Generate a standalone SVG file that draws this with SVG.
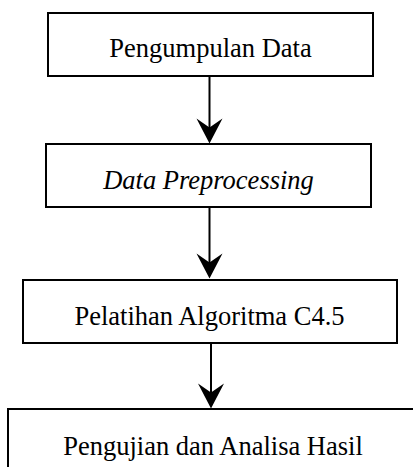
<svg xmlns="http://www.w3.org/2000/svg" width="413" height="467" viewBox="0 0 413 467">
<defs>
<style>
.box{fill:#fff;stroke:#000;stroke-width:2}
.lbl{font-family:'Liberation Serif','Times New Roman',serif;font-size:26.5px;fill:#000;text-anchor:middle}
.it{font-style:italic}
.conn{stroke:#000;stroke-width:2;fill:none}
</style>
<path id="head" d="M0,0 L-13,-25 L0,-16 L13,-25 Z" fill="#000"/>
</defs>
<rect width="413" height="467" fill="#fff"/>
<g id="connectors">
<line class="conn" x1="209.5" y1="76" x2="209.5" y2="130"/>
<use href="#head" x="209.5" y="143.5"/>
<line class="conn" x1="209.5" y1="207" x2="209.5" y2="265"/>
<use href="#head" x="209.5" y="278.5"/>
<line class="conn" x1="211" y1="343" x2="211" y2="395"/>
<use href="#head" x="211" y="408.5"/>
</g>
<g id="n1">
<rect class="box" x="48" y="13" width="325" height="63"/>
<text class="lbl" x="210.5" y="57">Pengumpulan Data</text>
</g>
<g id="n2">
<rect class="box" x="46" y="144" width="325" height="63"/>
<text class="lbl it" x="208.5" y="189">Data Preprocessing</text>
</g>
<g id="n3">
<rect class="box" x="23" y="280" width="374" height="63"/>
<text class="lbl" x="209.5" y="325">Pelatihan Algoritma C4.5</text>
</g>
<g id="n4">
<rect class="box" x="8" y="409" width="412" height="63"/>
<text class="lbl" x="213" y="455">Pengujian dan Analisa Hasil</text>
</g>
</svg>
